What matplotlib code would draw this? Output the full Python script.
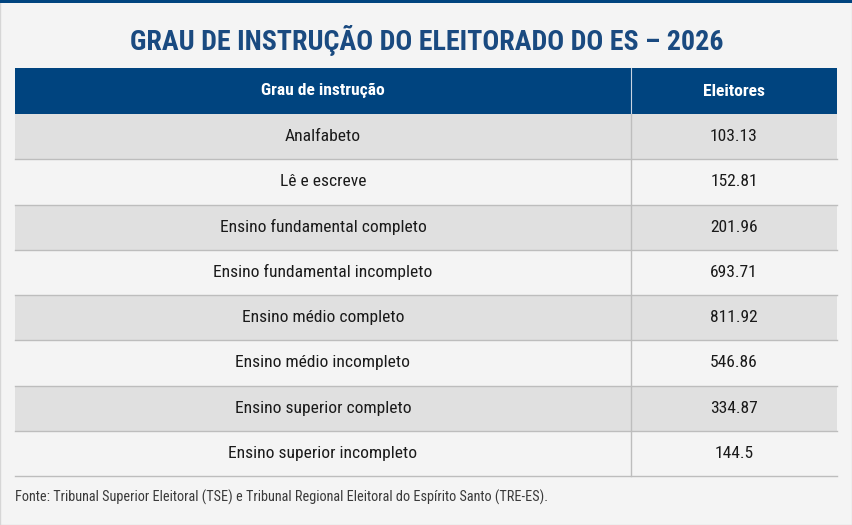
import matplotlib
matplotlib.use('Agg')
import matplotlib.pyplot as plt
from matplotlib.patches import Rectangle

TITLE = 'GRAU DE INSTRUÇÃO DO ELEITORADO DO ES – 2026'
HEADERS = ['Grau de instrução', 'Eleitores']
CATEGORIES = ['Analfabeto', 'Lê e escreve', 'Ensino fundamental completo',
              'Ensino fundamental incompleto', 'Ensino médio completo',
              'Ensino médio incompleto', 'Ensino superior completo',
              'Ensino superior incompleto']
ELEITORES = ['103.13', '152.81', '201.96', '693.71', '811.92',
             '546.86', '334.87', '144.5']
SOURCE = ('Fonte: Tribunal Superior Eleitoral (TSE) e Tribunal Regional '
          'Eleitoral do Espírito Santo (TRE-ES).')

FAM = ['Roboto Condensed', 'Liberation Sans Narrow', 'Roboto', 'DejaVu Sans']
BG = '#f4f4f4'
BLUE = '#00447f'
TITLE_C = '#1a4a80'
GRAY_ROW = '#e0e0e0'
LINE = '#bdbdbd'

W, H = 853, 525
fig = plt.figure(figsize=(W / 100, H / 100), dpi=100, facecolor=BG)
ax = fig.add_axes([0, 0, 1, 1])
ax.set_xlim(0, W)
ax.set_ylim(H, 0)
ax.axis('off')

# outer frame + top accent bar
ax.add_patch(Rectangle((0.5, 0.5), W - 1, H - 1, fill=False, ec='#d6d6d6', lw=1))
ax.add_patch(Rectangle((0, 0), W, 2.5, color=BLUE, lw=0))

ax.text(W / 2, 40, TITLE, ha='center', va='center', fontsize=20.2,
        fontweight='bold', color=TITLE_C, family=FAM)

left, right, split = 15, 837, 631
top, head_h, row_h = 68, 46, 45.25
c1, c2 = (left + split) / 2, (split + right) / 2

ax.add_patch(Rectangle((left, top), right - left, head_h, color=BLUE, lw=0))
ax.plot([split, split], [top, top + head_h], color='#c8d4e2', lw=0.8)
for x, lab in zip([c1, c2], HEADERS):
    ax.text(x, top + head_h / 2, lab, ha='center', va='center', fontsize=12.6,
            fontweight='bold', color='white', family=FAM)

y0 = top + head_h
for i, (cat, val) in enumerate(zip(CATEGORIES, ELEITORES)):
    y = y0 + i * row_h
    if i % 2 == 0:
        ax.add_patch(Rectangle((left, y), right - left, row_h, color=GRAY_ROW, lw=0))
    ax.plot([left, right], [y + row_h, y + row_h], color=LINE, lw=1)
    ax.text(c1, y + row_h / 2, cat, ha='center', va='center', fontsize=12.6,
            color='#1a1a1a', family=FAM)
    ax.text(c2, y + row_h / 2, val, ha='center', va='center', fontsize=12.6,
            color='#1a1a1a', family=FAM)
y_end = y0 + len(CATEGORIES) * row_h
ax.plot([split, split], [y0, y_end], color=LINE, lw=1)

ax.text(left, 497, SOURCE, ha='left', va='center', fontsize=10.3,
        color='#3a3a3a', family=FAM)

fig.savefig('out.png', dpi=100, facecolor=BG)
